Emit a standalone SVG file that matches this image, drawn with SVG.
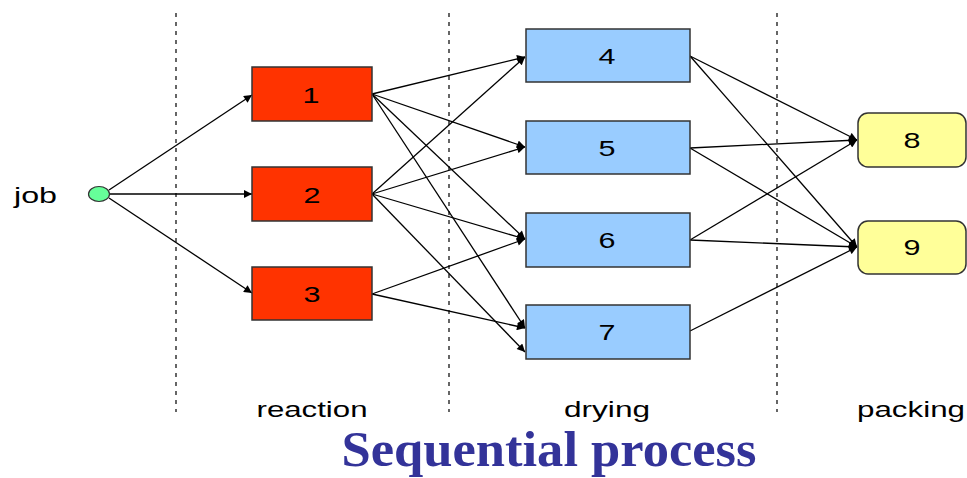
<svg xmlns="http://www.w3.org/2000/svg" width="967" height="478" viewBox="0 0 967 478">
  <style>
    .lbl { font-family: "Liberation Sans", Arial, sans-serif; font-size: 22px; fill: #000; }
    .num { font-family: "Liberation Sans", Arial, sans-serif; font-size: 22px; fill: #000; text-anchor: middle; }
    .title { font-family: "Liberation Serif", "Times New Roman", serif; font-size: 50px; font-weight: bold; fill: #333399; text-anchor: middle; }
    .react { fill: #FF3300; stroke: #333333; stroke-width: 1.5; }
    .dry { fill: #99CCFF; stroke: #333333; stroke-width: 1.5; }
    .pack { fill: #FFFF99; stroke: #333333; stroke-width: 1.5; }
    .sep { stroke: #000; stroke-width: 1.2; stroke-dasharray: 4 5; fill: none; }
    .edge { stroke: #000; stroke-width: 1.3; fill: none; marker-end: url(#arrow); }
  </style>
  <defs>
    <marker id="arrow" viewBox="0 0 10 10" refX="10" refY="5" markerWidth="10" markerHeight="8" markerUnits="userSpaceOnUse" orient="auto">
      <path d="M0,0 L10,5 L0,10 z" fill="#000"/>
    </marker>
  </defs>

  <rect width="967" height="478" fill="#fff"/>

  <!-- stage separators -->
  <g id="separators">
    <line class="sep" x1="176" y1="13" x2="176" y2="412"/>
    <line class="sep" x1="449" y1="13" x2="449" y2="412"/>
    <line class="sep" x1="777" y1="13" x2="777" y2="412"/>
  </g>

  <!-- stage labels -->
  <g id="stage-labels">
    <text class="lbl" x="312" y="417" text-anchor="middle" textLength="111" lengthAdjust="spacingAndGlyphs">reaction</text>
    <text class="lbl" x="607" y="417" text-anchor="middle" textLength="86" lengthAdjust="spacingAndGlyphs">drying</text>
    <text class="lbl" x="857" y="417" textLength="108" lengthAdjust="spacingAndGlyphs">packing</text>
  </g>

  <!-- connectors -->
  <g id="connectors">
    <!-- job to reaction -->
    <line class="edge" x1="109" y1="190" x2="252" y2="95"/>
    <line class="edge" x1="110" y1="194" x2="252" y2="194"/>
    <line class="edge" x1="109" y1="198" x2="252" y2="293"/>
    <!-- reaction to drying -->
    <line class="edge" x1="372" y1="94" x2="525" y2="57"/>
    <line class="edge" x1="372" y1="94" x2="525" y2="147"/>
    <line class="edge" x1="372" y1="94" x2="525" y2="239"/>
    <line class="edge" x1="372" y1="94" x2="525" y2="328"/>
    <line class="edge" x1="372" y1="194" x2="525" y2="57"/>
    <line class="edge" x1="372" y1="194" x2="525" y2="147"/>
    <line class="edge" x1="372" y1="194" x2="525" y2="239"/>
    <line class="edge" x1="372" y1="194" x2="525" y2="352"/>
    <line class="edge" x1="372" y1="294" x2="525" y2="239"/>
    <line class="edge" x1="372" y1="294" x2="525" y2="328"/>
    <!-- drying to packing -->
    <line class="edge" x1="690" y1="56" x2="857" y2="140"/>
    <line class="edge" x1="690" y1="56" x2="857" y2="247"/>
    <line class="edge" x1="690" y1="148" x2="857" y2="140"/>
    <line class="edge" x1="690" y1="148" x2="857" y2="247"/>
    <line class="edge" x1="690" y1="240" x2="857" y2="140"/>
    <line class="edge" x1="690" y1="240" x2="857" y2="247"/>
    <line class="edge" x1="690" y1="331" x2="857" y2="247"/>
  </g>

  <!-- source -->
  <g id="job">
    <text class="lbl" x="14" y="203" textLength="43" lengthAdjust="spacingAndGlyphs">job</text>
    <ellipse cx="99" cy="194" rx="10.5" ry="7.5" fill="#66FF99" stroke="#333333" stroke-width="1.2"/>
  </g>

  <!-- reaction units -->
  <g id="n1"><rect class="react" x="252" y="67" width="120" height="54"/><text class="num" x="311" y="102.5" textLength="17" lengthAdjust="spacingAndGlyphs">1</text></g>
  <g id="n2"><rect class="react" x="252" y="167" width="120" height="54"/><text class="num" x="312" y="202.5" textLength="17" lengthAdjust="spacingAndGlyphs">2</text></g>
  <g id="n3"><rect class="react" x="252" y="267" width="120" height="53"/><text class="num" x="312" y="302" textLength="17" lengthAdjust="spacingAndGlyphs">3</text></g>

  <!-- drying units -->
  <g id="n4"><rect class="dry" x="526" y="29" width="164" height="53"/><text class="num" x="607" y="64" textLength="17" lengthAdjust="spacingAndGlyphs">4</text></g>
  <g id="n5"><rect class="dry" x="526" y="121" width="164" height="53"/><text class="num" x="607" y="156" textLength="17" lengthAdjust="spacingAndGlyphs">5</text></g>
  <g id="n6"><rect class="dry" x="526" y="213" width="164" height="54"/><text class="num" x="607" y="248" textLength="17" lengthAdjust="spacingAndGlyphs">6</text></g>
  <g id="n7"><rect class="dry" x="526" y="305" width="164" height="54"/><text class="num" x="607" y="340" textLength="17" lengthAdjust="spacingAndGlyphs">7</text></g>

  <!-- packing units -->
  <g id="n8"><rect class="pack" x="858" y="113" width="108" height="54" rx="10"/><text class="num" x="912" y="148" textLength="17" lengthAdjust="spacingAndGlyphs">8</text></g>
  <g id="n9"><rect class="pack" x="858" y="221" width="108" height="53" rx="10"/><text class="num" x="912" y="255" textLength="17" lengthAdjust="spacingAndGlyphs">9</text></g>

  <text class="title" x="549" y="466" textLength="415" lengthAdjust="spacingAndGlyphs">Sequential process</text>
</svg>
